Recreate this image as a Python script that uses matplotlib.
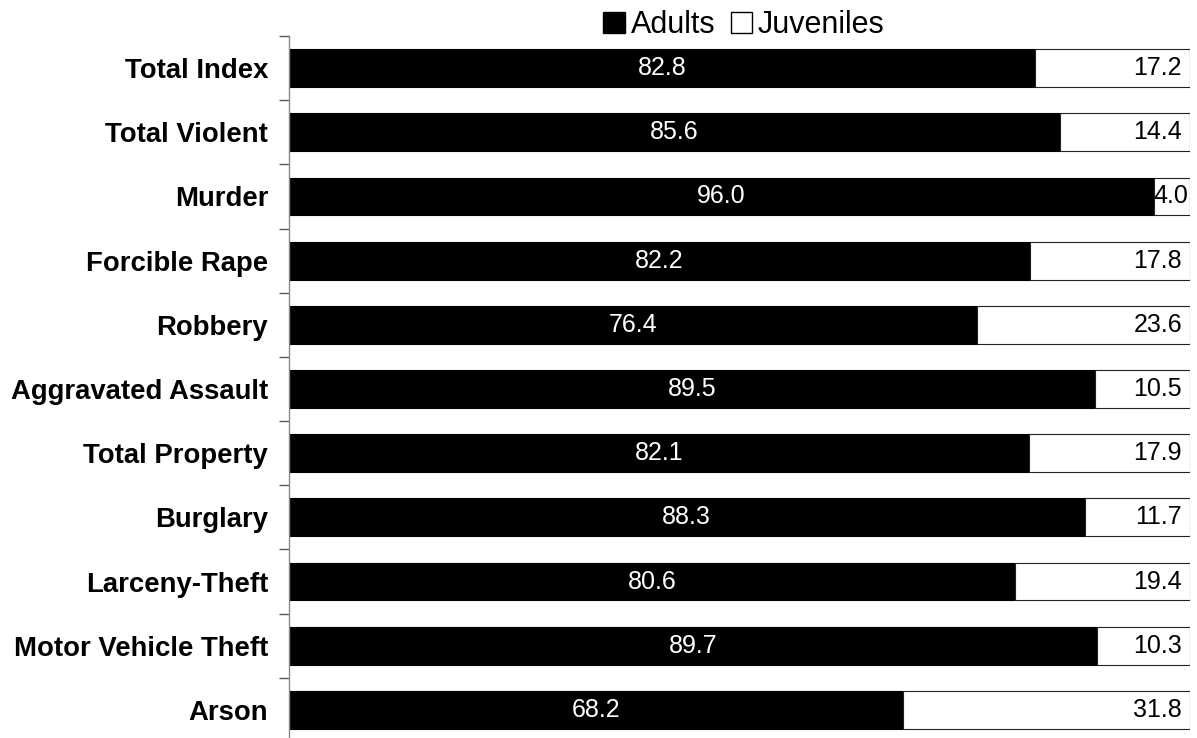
import matplotlib.pyplot as plt
import numpy as np
from matplotlib.patches import Patch

plt.rcParams['font.family'] = ['Liberation Sans', 'DejaVu Sans']

categorias = ["Total Index", "Total Violent", "Murder", "Forcible Rape", "Robbery",
              "Aggravated Assault", "Total Property", "Burglary", "Larceny-Theft",
              "Motor Vehicle Theft", "Arson"]
adultos = [82.8, 85.6, 96.0, 82.2, 76.4, 89.5, 82.1, 88.3, 80.6, 89.7, 68.2]
juvenis = [17.2, 14.4, 4.0, 17.8, 23.6, 10.5, 17.9, 11.7, 19.4, 10.3, 31.8]

W, H = 1197, 738
fig = plt.figure(figsize=(W / 100, H / 100), dpi=100)
ax = fig.add_axes([289 / W, (H - 742) / H, (1190 - 289) / W, (742 - 36) / H])

y = np.arange(len(categorias))
altura = 0.59

ax.barh(y, adultos, height=altura, color="black", edgecolor="black", linewidth=0.8)
ax.barh(y, juvenis, left=adultos, height=altura, color="white", edgecolor="#222222", linewidth=0.8)

ax.set_xlim(0, 100)
ax.set_ylim(len(categorias) - 0.5, -0.5)

renderer = fig.canvas.get_renderer()
for i in range(len(categorias)):
    ax.text(adultos[i] / 2, y[i], f"{adultos[i]:.1f}", color="white",
            ha="center", va="center", fontsize=18)
    t = ax.text(99.1, y[i], f"{juvenis[i]:.1f}", color="black",
                ha="right", va="center", fontsize=18)
    # se o texto não cabe na parte branca, encosta na borda direita
    bb = t.get_window_extent(renderer)
    x_borda = ax.transData.transform((adultos[i], 0))[0]
    if bb.x0 < x_borda + 1:
        t.set_x(99.85)

ax.set_yticks(y)
ax.set_yticklabels(categorias, fontsize=19.8, fontweight="bold")
ax.tick_params(axis="y", length=0, pad=15)
ax.set_yticks(np.arange(-0.5, len(categorias), 1), minor=True)
ax.tick_params(axis="y", which="minor", length=7, color="#555555", width=1)
ax.set_xticks([])

for lado in ["top", "right", "bottom"]:
    ax.spines[lado].set_visible(False)
ax.spines["left"].set_color("#888888")
ax.spines["left"].set_linewidth(1)

legenda = [Patch(facecolor="black", edgecolor="black", label="Adults"),
           Patch(facecolor="white", edgecolor="black", label="Juveniles")]
fig.legend(handles=legenda, loc="center", bbox_to_anchor=(744 / W, 1 - 25 / H),
           ncol=2, frameon=False, fontsize=22, handlelength=0.7, handleheight=0.7,
           handletextpad=0.2, columnspacing=0.5, borderpad=0)

fig.savefig("out.png", dpi=100)
